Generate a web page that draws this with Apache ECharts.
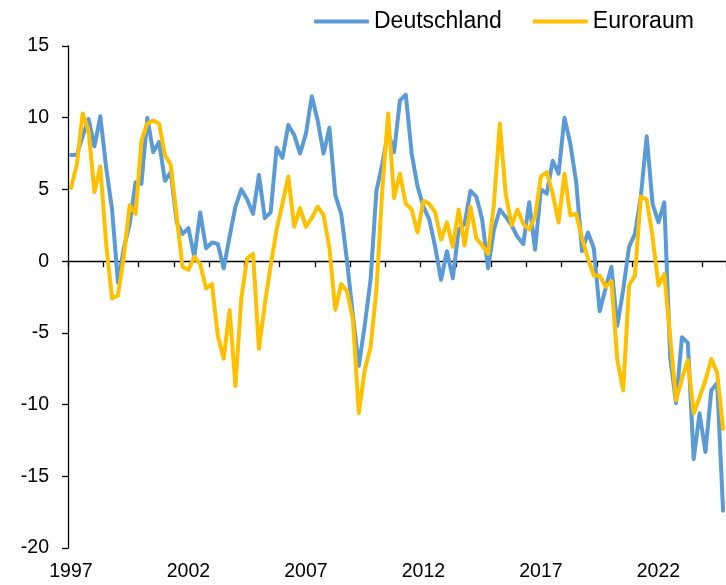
<!DOCTYPE html>
<html>
<head>
<meta charset="utf-8">
<script src="https://cdn.jsdelivr.net/npm/echarts@6/dist/echarts.min.js"></script>
<style>
  html, body { margin: 0; padding: 0; background: #fff; }
  #chart { width: 726px; height: 585px; }
</style>
</head>
<body>
<div id="chart"></div>
<script>
// Quartale 1997Q1 .. 2024Q4
var years = [1997, 1998, 1999, 2000, 2001, 2002, 2003, 2004, 2005, 2006, 2007, 2008, 2009, 2010,
             2011, 2012, 2013, 2014, 2015, 2016, 2017, 2018, 2019, 2020, 2021, 2022, 2023, 2024];
var quarters = [];
years.forEach(function (y) {
    for (var q = 1; q <= 4; q++) quarters.push(y + 'Q' + q);
});

var deutschland = [
    7.4, 7.4, 8.7, 9.9, 8.0, 10.1, 6.5, 3.6, -1.5, 0.9,
    2.6, 5.5, 5.4, 10.0, 7.6, 8.3, 5.6, 6.2, 2.7, 1.9,
    2.3, 0.3, 3.4, 0.9, 1.3, 1.2, -0.5, 1.7, 3.8, 5.0,
    4.3, 3.3, 6.0, 3.0, 3.4, 7.9, 7.2, 9.5, 8.8, 7.5,
    8.9, 11.5, 9.8, 7.5, 9.3, 4.6, 3.3, 0.0, -3.8, -7.3,
    -4.5, -1.3, 4.9, 6.8, 9.0, 7.6, 11.2, 11.6, 7.5, 5.2,
    3.8, 2.9, 1.0, -1.3, 0.7, -1.2, 2.2, 2.6, 4.9, 4.5,
    2.9, -0.5, 2.2, 3.6, 3.1, 2.5, 1.7, 1.2, 4.1, 0.8,
    5.0, 4.7, 7.0, 6.1, 10.0, 8.2, 5.5, 0.7, 2.0, 0.9,
    -3.5, -1.9, -0.4, -4.5, -2.0, 1.0, 1.9, 4.5, 8.7, 4.0,
    2.7, 4.1, -6.7, -9.9, -5.3, -5.7, -13.8, -10.6, -13.3, -9.0,
    -8.5, -17.4
];

var euroraum = [
    5.1, 6.7, 10.3, 9.1, 4.8, 6.6, 1.2, -2.6, -2.4, 0.3,
    3.9, 3.3, 8.4, 9.6, 9.8, 9.6, 7.4, 6.7, 3.1, -0.4,
    -0.6, 0.3, -0.2, -1.9, -1.6, -5.2, -6.8, -3.4, -8.7, -2.6,
    0.2, 0.5, -6.1, -3.0, -0.3, 2.2, 4.0, 5.9, 2.4, 3.7,
    2.4, 3.0, 3.8, 3.2, 0.9, -3.4, -1.6, -2.1, -4.1, -10.6,
    -7.6, -6.0, -2.0, 5.0, 10.3, 4.4, 6.1, 4.0, 3.6, 2.0,
    4.2, 4.0, 3.4, 1.5, 2.7, 1.0, 3.6, 1.1, 3.8, 1.6,
    1.1, 0.5, 4.0, 9.6, 4.7, 2.5, 3.6, 2.6, 2.2, 3.1,
    5.9, 6.2, 4.7, 2.7, 6.1, 3.2, 3.3, 1.6, 0.2, -1.0,
    -1.0, -1.8, -1.4, -6.9, -9.0, -1.7, -1.0, 4.5, 4.3, 1.7,
    -1.7, -0.9, -5.3, -9.7, -8.2, -6.9, -10.6, -9.5, -8.3, -6.8,
    -7.8, -11.7
];

var blau = '#5B9BD5';
var gelb = '#FFC000';
var font = 'Liberation Sans, Arial, sans-serif';

var myChart = echarts.init(document.getElementById('chart'));
myChart.setOption({
    animation: false,
    backgroundColor: '#fff',
    grid: { left: 68, right: 0, top: 46, bottom: 37 },
    legend: {
        left: 309,
        top: 5,
        itemWidth: 55,
        itemHeight: 4,
        itemGap: 31,
        icon: 'roundRect',
        textStyle: { fontSize: 23, color: '#000', fontFamily: font },
        data: ['Deutschland', 'Euroraum']
    },
    xAxis: [
        {
            // Nulllinie mit Strichen
            type: 'category',
            data: quarters,
            boundaryGap: true,
            axisLine: { onZero: true, lineStyle: { color: '#000', width: 1.3 } },
            axisTick: { show: true, interval: 5, length: 6, lineStyle: { color: '#000', width: 1.3 } },
            axisLabel: { show: false },
            splitLine: { show: false }
        },
        {
            // Jahresbeschriftung unten
            type: 'category',
            data: quarters,
            position: 'bottom',
            boundaryGap: true,
            axisLine: { show: false, onZero: false },
            axisTick: { show: false },
            axisLabel: {
                interval: 19,
                margin: 14,
                fontSize: 19.5,
                color: '#000',
                fontFamily: font,
                formatter: function (v) { return v.slice(0, 4); }
            },
            splitLine: { show: false }
        }
    ],
    yAxis: {
        type: 'value',
        min: -20,
        max: 15,
        interval: 5,
        axisLine: { show: true, lineStyle: { color: '#000', width: 1.3 } },
        axisTick: { show: true, length: 6, lineStyle: { color: '#000', width: 1.3 } },
        axisLabel: { margin: 19, fontSize: 19.5, color: '#000', fontFamily: font },
        splitLine: { show: false }
    },
    series: [
        {
            name: 'Deutschland',
            type: 'line',
            xAxisIndex: 0,
            data: deutschland,
            symbol: 'none',
            itemStyle: { color: blau },
            lineStyle: { color: blau, width: 4, cap: 'round', join: 'round' }
        },
        {
            name: 'Euroraum',
            type: 'line',
            xAxisIndex: 0,
            data: euroraum,
            symbol: 'none',
            itemStyle: { color: gelb },
            lineStyle: { color: gelb, width: 4, cap: 'round', join: 'round' }
        }
    ]
});
</script>
</body>
</html>
